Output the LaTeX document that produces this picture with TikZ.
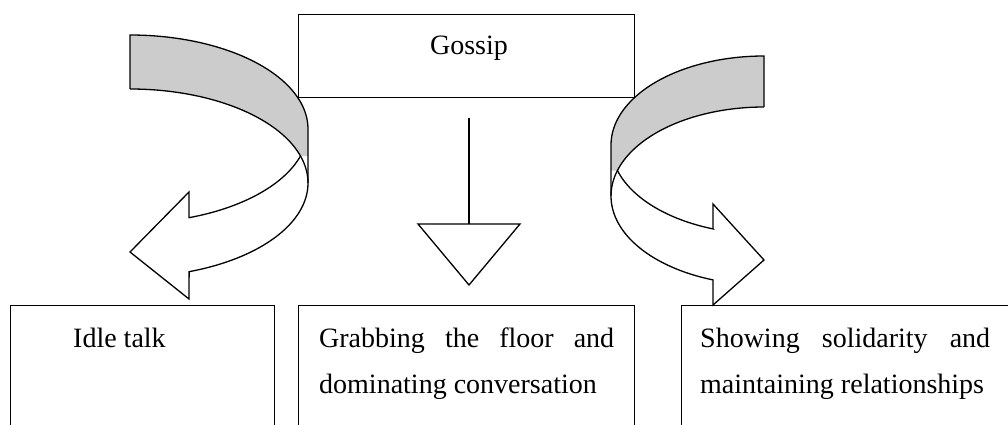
\documentclass[tikz,border=0pt]{standalone}
\usepackage{fontspec}
\setmainfont{Liberation Serif}
\hbadness=10000
\definecolor{bandgrey}{gray}{0.8}
\newcommand{\bigtext}{\fontsize{28pt}{46pt}\selectfont}
\tikzset{
  outline/.style={line width=1.3pt, line join=miter},
  boxstyle/.style={draw, line width=1.2pt, rectangle, inner sep=0pt},
  txt/.style={font=\bigtext, inner sep=0pt},
  arcplot/.style={smooth, samples=60, variable=\t},
}
\begin{document}
\begin{tikzpicture}[x=1pt,y=-1pt]
\clip (0,0) rectangle (1008,425);
\fill[white] (0,0) rectangle (1008,425);

% ---------- top box ----------
\node[boxstyle, minimum width=336pt, minimum height=83pt, anchor=north west] (gossip) at (298,14) {};
\node[txt, anchor=base] (gossiptext) at (469,55) {Gossip};

% ---------- bottom boxes ----------
\node[boxstyle, minimum width=264pt, minimum height=160pt, anchor=north west] (idle) at (10,305) {};
\node[boxstyle, minimum width=336pt, minimum height=160pt, anchor=north west] (grab) at (298,305) {};
\node[boxstyle, minimum width=336pt, minimum height=160pt, anchor=north west] (show) at (681,305) {};

\node[txt, anchor=base west] (idletext) at (73,347) {Idle talk};
\node[txt, anchor=base west] (grabtext) at (319,347)
  {\parbox[t]{295pt}{\bigtext Grabbing the floor and\linebreak dominating conversation}};
\node[txt, anchor=base west] (showtext) at (700,347)
  {\parbox[t]{290pt}{\bigtext Showing solidarity and\linebreak maintaining relationships}};

% ---------- middle down arrow ----------
\coordinate (stemtop) at (469,118);
\coordinate (stembot) at (469,224);
\coordinate (triL) at (418,224);
\coordinate (triR) at (520,224);
\coordinate (triTip) at (469,285);
\draw[line width=1.8pt] (stemtop) -- (stembot);
\draw[outline] (triL) -- (triR) -- (triTip) -- cycle;

% ---------- left curved arrow ----------
% ellipse A: centre (130,129), B: centre (130,183); rx 178, ry 94
\fill[bandgrey]
  plot[arcplot, domain=-90:0] ({130+178*cos(\t)},{129+94*sin(\t)})
  -- (308,156) -- (300.5,156)
  -- plot[arcplot, domain=-16.7:-90] ({130+178*cos(\t)},{183+94*sin(\t)})
  -- cycle;
\draw[outline]
  (130,89) -- (130,35)
  -- plot[arcplot, domain=-90:0] ({130+178*cos(\t)},{129+94*sin(\t)})
  -- (308,183)
  -- plot[arcplot, domain=0:70.6] ({130+178*cos(\t)},{183+94*sin(\t)})
  -- (189,299) -- (130,252) -- (189,192) -- (189,217.6)
  -- plot[arcplot, domain=70.6:16.7] ({130+178*cos(\t)},{129+94*sin(\t)});
\draw[outline]
  plot[arcplot, domain=-90:0] ({130+178*cos(\t)},{183+94*sin(\t)});

% ---------- right curved arrow ----------
% ellipse A: centre (764,145), B: centre (764,196); rx 153, ry 89
\fill[bandgrey]
  plot[arcplot, domain=270:180] ({764+153*cos(\t)},{145+89*sin(\t)})
  -- (611,170.5) -- (617.4,170.5)
  -- plot[arcplot, domain=196.65:270] ({764+153*cos(\t)},{196+89*sin(\t)})
  -- cycle;
\draw[outline]
  (764,107) -- (764,56)
  -- plot[arcplot, domain=270:180] ({764+153*cos(\t)},{145+89*sin(\t)})
  -- (611,196)
  -- plot[arcplot, domain=180:109.47] ({764+153*cos(\t)},{196+89*sin(\t)})
  -- (713,305) -- (764,260) -- (713,204) -- (713,228.9)
  -- plot[arcplot, domain=109.47:163.35] ({764+153*cos(\t)},{145+89*sin(\t)});
\draw[outline]
  plot[arcplot, domain=270:180] ({764+153*cos(\t)},{196+89*sin(\t)});
\end{tikzpicture}
\end{document}
